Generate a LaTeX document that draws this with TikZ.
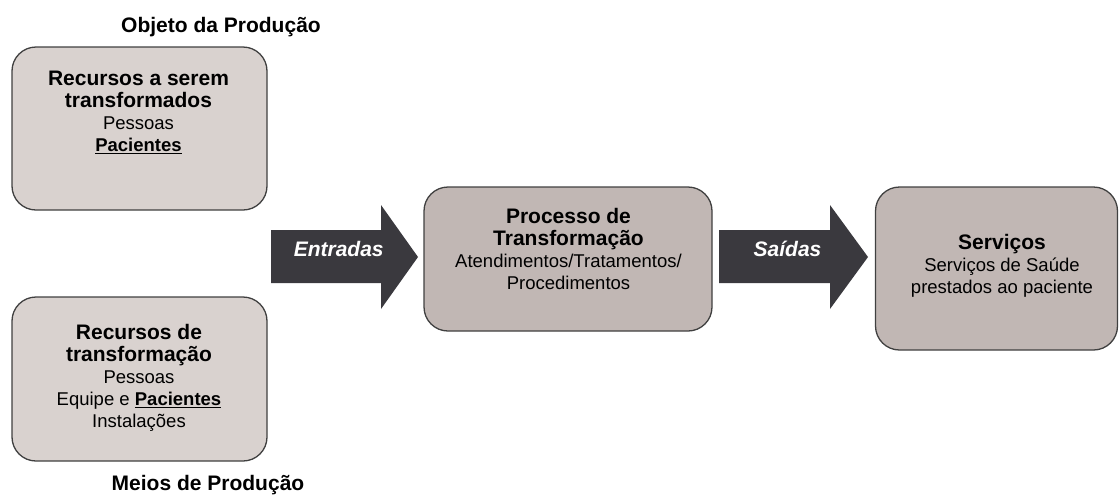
\documentclass[tikz,border=0pt]{standalone}
\usepackage{fontspec}
\setmainfont{Liberation Sans}
\begin{document}
\begin{tikzpicture}[x=1pt,y=-1pt,
  lightbox/.style={draw=boxborder,line width=1.3pt,fill=lightfill,rounded corners=24pt,inner sep=0pt},
  darkbox/.style={draw=boxborder,line width=1.3pt,fill=darkfill,rounded corners=24pt,inner sep=0pt},
  boxtext/.style={align=center,inner sep=0pt,anchor=north,font=\fontsize{18.5}{22}\selectfont},
  arrowlabel/.style={inner sep=0pt,anchor=base,text=white,font=\fontsize{21}{22}\selectfont\bfseries\itshape},
  caption/.style={inner sep=0pt,anchor=base,font=\fontsize{21}{22}\selectfont\bfseries},
  bigarrow/.style={fill=arrowfill}
]
\definecolor{lightfill}{HTML}{D9D2CF}
\definecolor{darkfill}{HTML}{C1B7B4}
\definecolor{boxborder}{HTML}{404040}
\definecolor{arrowfill}{HTML}{3A393E}
\newcommand{\ttl}[1]{{\bfseries\fontsize{21}{22}\selectfont #1}}
\useasboundingbox (0,0) rectangle (1119,499);

% boxes
\node[lightbox,minimum width=255pt,minimum height=163pt] (obj) at (139.5,128.5) {};
\node[lightbox,minimum width=255pt,minimum height=164pt] (meios) at (139.5,379) {};
\node[darkbox,minimum width=288pt,minimum height=144pt] (proc) at (568,259) {};
\node[darkbox,minimum width=242pt,minimum height=163pt] (serv) at (996.5,268.5) {};

% box texts
\node[boxtext] (objtxt) at (138.5,71) {\ttl{Recursos a serem}\\\ttl{transformados}\\Pessoas\\\underline{\textbf{Pacientes}}};
\node[boxtext] (meiostxt) at (139,324) {\ttl{Recursos de}\\\ttl{transformação}\\Pessoas\\Equipe e \underline{\textbf{Pacientes}}\\Instalações};
\node[boxtext] (proctxt) at (568.5,208) {\ttl{Processo de}\\\ttl{Transformação}\\Atendimentos/Tratamentos/\\Procedimentos};
\node[boxtext] (servtxt) at (1002,234) {\ttl{Serviços}\\Serviços de Saúde\\prestados ao paciente};

% arrows
\fill[bigarrow] (271,230) -- (381,230) -- (381,205) -- (418,257) -- (381,309) -- (381,283) -- (271,283) -- cycle;
\fill[bigarrow] (719,230) -- (830,230) -- (830,205) -- (868,257) -- (830,309) -- (830,283) -- (719,283) -- cycle;
\node[arrowlabel] (entradas) at (338.7,256.5) {Entradas};
\node[arrowlabel] (saidas) at (787.5,256.5) {Saídas};

% captions
\node[caption] (objcap) at (221,32.5) {Objeto da Produção};
\node[caption] (meioscap) at (208,490) {Meios de Produção};
\end{tikzpicture}
\end{document}
